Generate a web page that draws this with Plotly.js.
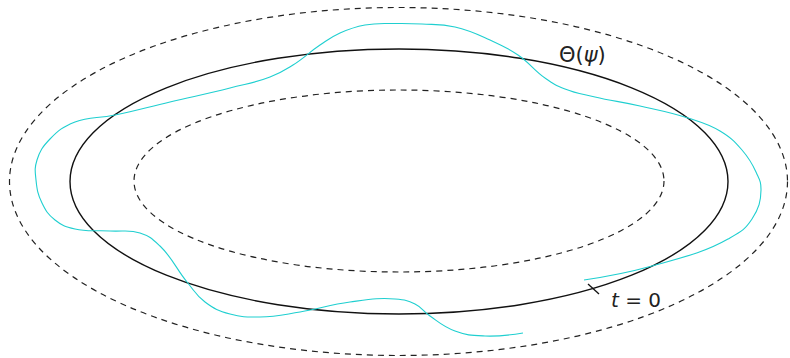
<!DOCTYPE html>
<html>
<head>
<meta charset="utf-8">
<script src="https://cdn.plot.ly/plotly-3.0.1.min.js"></script>
<style>html,body{margin:0;padding:0;background:#fff;}#plot{width:790px;height:358px;}</style>
</head>
<body>
<div id="plot"></div>
<script>
// Ellipses: solid Θ(ψ), outer dashed, inner dashed (centre + semi-axes)
const ellipseNames = ["theta", "outer", "inner"];
const ellipseCx = [399, 398.5, 399];
const ellipseCy = [181.5, 181.5, 181];
const ellipseRx = [329, 389, 265];
const ellipseRy = [132.5, 174, 91];

// Cyan trajectory (starts near t = 0)
const pathX = [584, 652, 728, 752, 761, 756, 742, 720, 688, 640, 595, 565, 545, 518, 490, 455, 422, 395, 365, 340, 320, 293, 270, 230, 170, 115, 75, 50, 37, 36, 42, 55, 75, 110, 140, 160, 187, 205, 230, 260, 300, 350, 395, 415, 430, 455, 485, 523];
const pathY = [280, 266, 239, 219, 190, 172, 150, 131, 118, 106, 97, 89, 78, 55, 40, 27, 24, 23.5, 25, 33, 45, 65, 77, 88, 102, 115, 122, 139, 160, 180, 203, 220, 229, 231, 233, 246, 282, 302, 314, 317, 312, 302, 299, 304, 316, 331, 336, 333];

// Tick mark at t = 0
const tickX = [588, 599];
const tickY = [284, 294];

// Labels
const labelText = ["Θ(<i>ψ</i>)", "<i>t</i> = 0"];
const labelX = [582, 636];
const labelY = [55, 300];

const shapes = ellipseNames.map((n, i) => ({
  type: "circle",
  xref: "x", yref: "y",
  x0: ellipseCx[i] - ellipseRx[i], x1: ellipseCx[i] + ellipseRx[i],
  y0: ellipseCy[i] - ellipseRy[i], y1: ellipseCy[i] + ellipseRy[i],
  line: n === "theta" ? {color: "#111", width: 1.4} : {color: "#222", width: 1.2, dash: "6px,5px"},
  layer: "below"
}));

const traces = [
  {x: pathX, y: pathY, mode: "lines", line: {color: "#1fcfd0", width: 1.1, shape: "spline", smoothing: 1.3}, hoverinfo: "skip"},
  {x: tickX, y: tickY, mode: "lines", line: {color: "#111", width: 1.3}, hoverinfo: "skip"}
];

const annotations = labelText.map((t, i) => ({
  x: labelX[i], y: labelY[i], xref: "x", yref: "y", text: t, showarrow: false,
  font: {family: "DejaVu Sans", size: i === 0 ? 21 : 20, color: "#222"}
}));

const layout = {
  width: 790, height: 358,
  margin: {l: 0, r: 0, t: 0, b: 0},
  paper_bgcolor: "#fff", plot_bgcolor: "#fff",
  showlegend: false,
  xaxis: {range: [0, 790], visible: false, fixedrange: true},
  yaxis: {range: [358, 0], visible: false, fixedrange: true},
  shapes: shapes,
  annotations: annotations
};

Plotly.newPlot("plot", traces, layout, {displayModeBar: false, staticPlot: true});
</script>
</body>
</html>
